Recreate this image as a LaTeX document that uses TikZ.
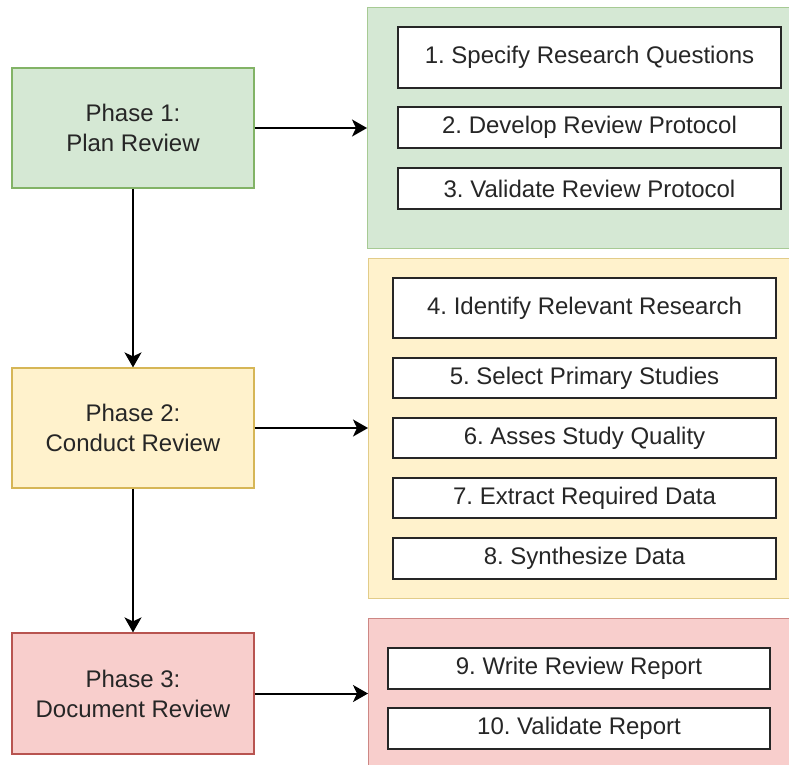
\documentclass[tikz,border=0pt]{standalone}
\usepackage{fontspec}
\setmainfont{Liberation Sans}
\usetikzlibrary{arrows.meta}
\frenchspacing
\definecolor{gfill}{HTML}{D5E8D4}\definecolor{gline}{HTML}{82B366}
\definecolor{yfill}{HTML}{FFF2CC}\definecolor{yline}{HTML}{D6B656}
\definecolor{rfill}{HTML}{F8CECC}\definecolor{rline}{HTML}{B85450}
\definecolor{txt}{HTML}{262626}
\tikzset{
  phase/.style={draw=#1line, fill=#1fill, line width=1.2pt, minimum width=242pt, minimum height=120pt,
    align=center, text=txt, font=\fontsize{24}{30}\selectfont\frenchspacing, inner sep=0pt},
  panel/.style={draw=#1line!70, fill=#1fill, line width=1.2pt, anchor=north west, minimum width=428pt, inner sep=0pt},
  item/.style={draw=black!85, fill=white, line width=2pt, minimum width=383pt, minimum height=41pt,
    text=txt, font=\fontsize{24}{30}\selectfont\frenchspacing, inner sep=0pt},
  arr/.style={line width=2pt, -{Stealth[length=15pt,width=17pt,inset=4pt]}}
}
\begin{document}
\begin{tikzpicture}[x=1pt,y=-1pt]
\useasboundingbox (0,0) rectangle (789,764);
\fill[white] (0,0) rectangle (789,764);
% panels
\node[panel=g, minimum height=241pt] (gp) at (367,7) {};
\node[panel=y, minimum height=340pt] (yp) at (368,258) {};
\node[panel=r, minimum height=160pt] (rp) at (368,618) {};
% phases
\node[phase=g] (p1) at (133,128) {Phase 1:\\Plan Review};
\node[phase=y] (p2) at (133,428) {Phase 2:\\Conduct Review};
\node[phase=r, minimum height=121pt] (p3) at (133,693.5) {Phase 3:\\Document Review};
% items
\node[item, minimum height=61pt] (i1) at (589.5,57.5) {1. Specify Research Questions};
\node[item] (i2) at (589.5,127.5) {2. Develop Review Protocol};
\node[item] (i3) at (589.5,188.5) {3. Validate Review Protocol};
\node[item, minimum height=60pt] (i4) at (584.5,308) {4. Identify Relevant Research};
\node[item, minimum height=40pt] (i5) at (584.5,378) {5. Select Primary Studies};
\node[item, minimum height=40pt] (i6) at (584.5,438) {6. Asses Study Quality};
\node[item, minimum height=40pt] (i7) at (584.5,498) {7. Extract Required Data};
\node[item] (i8) at (584.5,558.5) {8. Synthesize Data};
\node[item, minimum width=382pt] (i9) at (579,668.5) {9. Write Review Report};
\node[item, minimum width=382pt] (i10) at (579,728.5) {10. Validate Report};
% connectors
\draw[arr] (p1.east) -- (p1.east -| gp.west);
\draw[arr] (p2.east) -- (p2.east -| yp.west);
\draw[arr] (p3.east) -- (p3.east -| rp.west);
\draw[arr] (p1.south) -- (p2.north);
\draw[arr] (p2.south) -- (p3.north);
\end{tikzpicture}
\end{document}
